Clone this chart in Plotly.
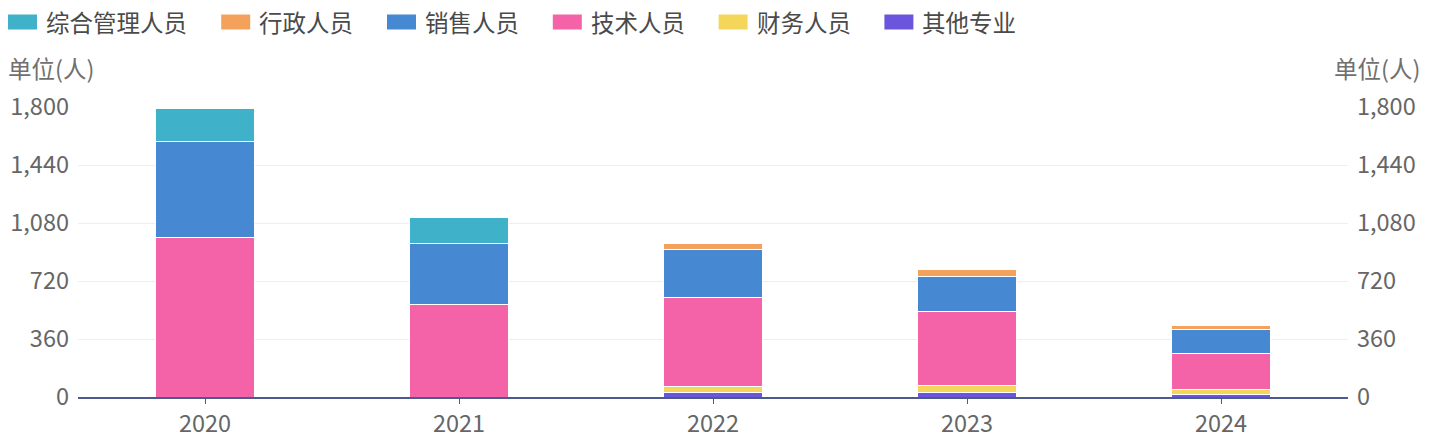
import plotly.graph_objects as go

years = ['2020', '2021', '2022', '2023', '2024']

# stack order bottom -> top
series_names = ['其他专业', '财务人员', '技术人员', '销售人员', '行政人员', '综合管理人员']
other = [0, 0, 25, 28, 15]
finance = [0, 0, 38, 42, 32]
tech = [990, 572, 553, 463, 222]
sales = [595, 383, 300, 217, 150]
admin = [0, 0, 38, 42, 26]
general = [205, 161, 0, 0, 0]
series_values = [other, finance, tech, sales, admin, general]
colors = ['#6c55dd', '#f4d75a', '#f462a8', '#4689d2', '#f4a25b', '#3fb1c9']

y_ticks = [0, 360, 720, 1080, 1440, 1800]
y_ticktext = ['0', '360', '720', '1,080', '1,440', '1,800']

font_family = 'Noto Sans CJK SC, Noto Sans, sans-serif'
fs = 23.5
# page body has an 8px margin, so the figure is 8px smaller and every
# screen position below is shifted by OFF
OFF = 8
W, H = 1437 - OFF, 433 - OFF
ML, MR, MT, MB = 70, 89, 99, 36
PW, PH = W - ML - MR, H - MT - MB


def px_x(x):
    return (x - OFF - ML) / PW


def px_y(y):
    return (H - MB - (y - OFF)) / PH


fig = go.Figure()
for name, vals, col in zip(series_names, series_values, colors):
    fig.add_trace(go.Bar(
        x=years, y=vals, name=name, width=0.39,
        marker=dict(color=col, line=dict(color='white', width=1)),
    ))
# empty trace so the right axis gets drawn
fig.add_trace(go.Scatter(x=[], y=[], yaxis='y2', showlegend=False, hoverinfo='skip'))

# legend drawn by hand: wide rounded swatches like the original
shapes = []
annotations = []
lx = 8
for name, col in reversed(list(zip(series_names, colors))):
    shapes.append(dict(type='rect', xref='paper', yref='paper',
                       x0=px_x(lx), x1=px_x(lx + 29), y0=px_y(29.5), y1=px_y(14.5),
                       fillcolor=col, line=dict(width=0)))
    annotations.append(dict(text=name, xref='paper', yref='paper', x=px_x(lx + 36), y=px_y(22),
                            xanchor='left', yanchor='middle', showarrow=False,
                            font=dict(size=fs, color='#4a4a4a')))
    lx += 29 + 7 + len(name) * 23.7 + 35

annotations += [
    dict(text='单位(人)', xref='paper', yref='paper', x=px_x(6), y=px_y(68),
         xanchor='left', yanchor='middle', showarrow=False, font=dict(size=fs, color='#707070')),
    dict(text='单位(人)', xref='paper', yref='paper', x=px_x(1422), y=px_y(68),
         xanchor='right', yanchor='middle', showarrow=False, font=dict(size=fs, color='#707070')),
]

fig.update_layout(
    width=W, height=H,
    barmode='stack',
    showlegend=False,
    paper_bgcolor='white', plot_bgcolor='white',
    font=dict(family=font_family, size=fs, color='#666'),
    margin=dict(l=ML, r=MR, t=MT, b=MB, autoexpand=False),
    xaxis=dict(showline=True, linecolor='#4e5a8e', linewidth=2,
               ticks='outside', ticklen=5, tickcolor='#4e5a8e',
               tickfont=dict(size=fs, color='#666')),
    yaxis=dict(range=[0, 1800], tickvals=y_ticks, ticktext=y_ticktext,
               showgrid=True, gridcolor='#eceef3', zeroline=False,
               ticklabelstandoff=8, tickfont=dict(size=fs, color='#666')),
    yaxis2=dict(range=[0, 1800], tickvals=y_ticks, ticktext=y_ticktext,
                overlaying='y', side='right', showgrid=False, zeroline=False,
                ticklabelstandoff=8, tickfont=dict(size=fs, color='#666')),
    shapes=shapes,
    annotations=annotations,
)

fig.write_html('out.html')
